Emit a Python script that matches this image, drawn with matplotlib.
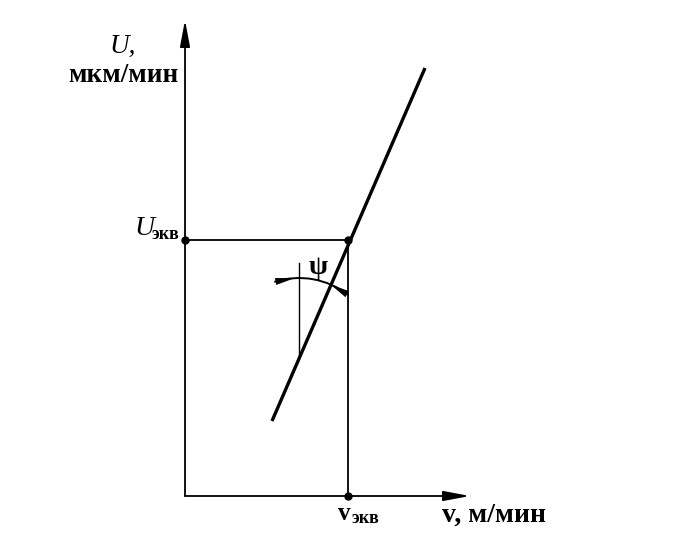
import matplotlib
matplotlib.use("Agg")
import matplotlib.pyplot as plt
from matplotlib.patches import Arc, Polygon
import numpy as np

# Schematic units: origin at axes crossing
v_eq = 163          # equivalent cutting speed position
U_eq = 256          # equivalent wear rate position
line_v = [87, 240]  # main straight line (v range)
line_U = [75, 428]  # main straight line (U range)
v_axis_end = 285
U_axis_end = 476
psi_vertical_v = 114
psi_vertical_U = [138, 233]
psi_radius = 80
psi_theta = [52, 108]

fig = plt.figure(figsize=(6.86, 5.38), dpi=100)
ax = fig.add_axes([0, 0, 1, 1])
ax.set_xlim(-185, 501)
ax.set_ylim(-42, 496)
ax.axis("off")

serif = ["Liberation Serif", "DejaVu Serif"]

# axes with arrows
ax.annotate("", xy=(0, U_axis_end), xytext=(0, 0),
            arrowprops=dict(arrowstyle="-|>,head_length=1.6,head_width=0.3", lw=1.3, color="black",
                            shrinkA=0, shrinkB=0))
ax.annotate("", xy=(v_axis_end, 0), xytext=(0, 0),
            arrowprops=dict(arrowstyle="-|>,head_length=1.6,head_width=0.3", lw=1.3, color="black",
                            shrinkA=0, shrinkB=0))

# guide lines
ax.plot([0, v_eq], [U_eq, U_eq], color="black", lw=1.3)
ax.plot([v_eq, v_eq], [0, U_eq], color="black", lw=1.3)

# main line
ax.plot(line_v, line_U, color="black", lw=2.4, solid_capstyle="butt")

# points
ax.plot([0, v_eq, v_eq], [U_eq, U_eq, 0], "o", color="black", ms=5)

# psi construction
ax.plot([psi_vertical_v, psi_vertical_v], psi_vertical_U, color="black", lw=1.0)
ax.add_patch(Arc((psi_vertical_v, psi_vertical_U[0]), 2 * psi_radius, 2 * psi_radius,
                 theta1=psi_theta[0], theta2=psi_theta[1], color="black", lw=1.4))

def arcpt(deg):
    r = np.deg2rad(deg)
    return np.array([psi_vertical_v + psi_radius * np.cos(r), psi_vertical_U[0] + psi_radius * np.sin(r)])

def wedge(tip_deg, base_deg, hw=3.5):
    t = arcpt(tip_deg)
    b = arcpt(base_deg)
    d = t - b
    n = np.array([-d[1], d[0]]) / np.hypot(*d)
    ax.add_patch(Polygon([t, b + n * hw, b - n * hw], closed=True, color="black", lw=0))

wedge(93, 107)
wedge(67, 53)
ax.text(133, 229, "ψ", fontsize=20, family=serif, ha="center", va="center", fontweight="bold")

# labels
ax.text(-62, 443, "U,", fontsize=19.5, family=serif, style="italic", ha="center", va="baseline")
ax.text(-62, 414, "мкм/мин", fontsize=19.5, family=serif, fontweight="bold", ha="center", va="baseline")
ax.text(-31, 261, "U", fontsize=20, family=serif, style="italic", ha="right", va="baseline")
ax.text(-33, 257, "экв", fontsize=13, family=serif, fontweight="bold", ha="left", va="baseline")
ax.text(165, -24, "v", fontsize=18, family=serif, fontweight="bold", ha="right", va="baseline")
ax.text(167, -27, "экв", fontsize=13, family=serif, fontweight="bold", ha="left", va="baseline")
ax.text(257, -26, "v, м/мин", fontsize=20, family=serif, fontweight="bold", ha="left", va="baseline")

fig.savefig("out.png", dpi=100)
